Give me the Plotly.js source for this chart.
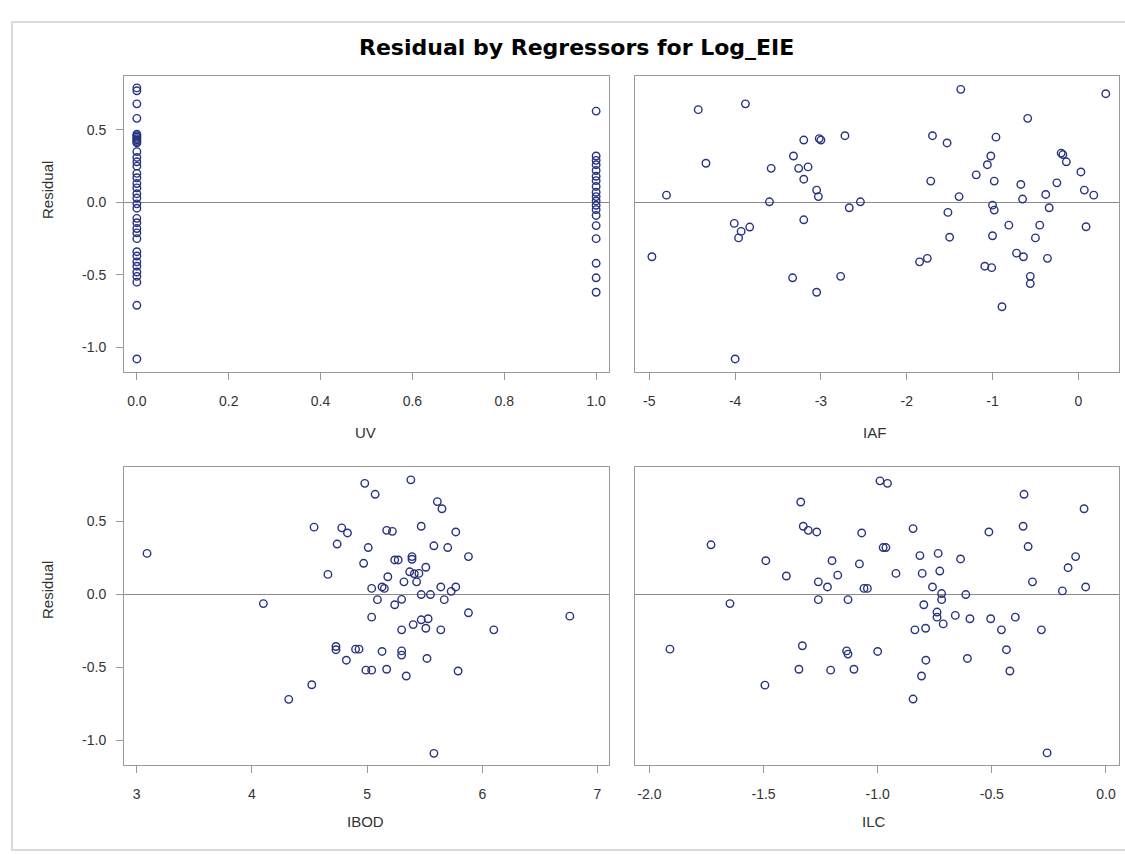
<!DOCTYPE html>
<html>
<head>
<meta charset="utf-8">
<script src="https://cdn.plot.ly/plotly-3.0.1.min.js"></script>
<style>
html,body{margin:0;padding:0;background:#fff;}
#chart{width:1125px;height:854px;}
</style>
</head>
<body>
<div id="chart"></div>
<script>
// ---- Data ----
var chartTitle = "Residual by Regressors for Log_EIE";
var regressorNames = ["UV", "IAF", "IBOD", "ILC"];
var residualLabel = "Residual";

// tick values and labels
var uvTicks = [0, 0.2, 0.4, 0.6, 0.8, 1.0];
var uvTickText = ["0.0", "0.2", "0.4", "0.6", "0.8", "1.0"];
var iafTicks = [-5, -4, -3, -2, -1, 0];
var iafTickText = ["-5", "-4", "-3", "-2", "-1", "0"];
var ibodTicks = [3, 4, 5, 6, 7];
var ibodTickText = ["3", "4", "5", "6", "7"];
var ilcTicks = [-2.0, -1.5, -1.0, -0.5, 0.0];
var ilcTickText = ["-2.0", "-1.5", "-1.0", "-0.5", "0.0"];
var residTicks = [-1.0, -0.5, 0.0, 0.5];
var residTickText = ["-1.0", "-0.5", "0.0", "0.5"];

// UV panel
var uvX = [0,0,0,0,0,0,0,0,0,0,0,0,0,0,0,0,0,0,0,0,0,0,0,0,0,0,0,0,0,0,0,0,0,0,0,0,0,
           1,1,1,1,1,1,1,1,1,1,1,1,1,1,1,1,1,1,1];
var uvResid = [0.79,0.77,0.68,0.58,0.47,0.46,0.45,0.44,0.43,0.42,0.41,0.35,0.31,0.28,0.25,0.20,0.17,0.13,0.10,0.06,0.03,-0.01,-0.04,-0.11,-0.14,-0.18,-0.21,-0.25,-0.34,-0.37,-0.41,-0.44,-0.48,-0.51,-0.55,-0.71,-1.08,
               0.63,0.32,0.29,0.26,0.22,0.18,0.15,0.11,0.07,0.04,0.01,-0.02,-0.05,-0.09,-0.16,-0.25,-0.42,-0.52,-0.62];

// IAF panel
var iafX = [-4.43,-3.88,-4.34,-4.80,-4.97,-4.01,-3.83,-3.93,-3.96,-4.00,-3.60,-3.58,-3.32,-3.20,-3.02,-3.00,-2.72,-3.26,-3.15,-3.20,-3.05,-3.03,-3.20,-3.33,-3.05,-2.77,-2.67,-2.54,
            -1.37,-0.59,0.32,-1.70,-1.53,-0.96,-1.02,-1.06,-1.19,-0.98,-1.72,-1.39,-0.20,-0.18,-0.14,0.03,-0.67,-0.25,-0.38,-0.65,0.07,0.18,-1.00,-0.98,-0.34,-1.52,-0.81,-0.45,0.09,-1.50,-1.00,-0.50,-0.72,-0.64,-0.36,-1.85,-1.76,-1.09,-1.01,-0.56,-0.56,-0.89];
var iafResid = [0.64,0.68,0.27,0.05,-0.375,-0.145,-0.17,-0.20,-0.245,-1.08,0.004,0.235,0.32,0.43,0.44,0.43,0.46,0.235,0.245,0.16,0.085,0.04,-0.12,-0.52,-0.62,-0.51,-0.037,0.004,
                0.78,0.58,0.75,0.46,0.41,0.45,0.32,0.26,0.19,0.147,0.147,0.04,0.34,0.33,0.28,0.21,0.124,0.135,0.055,0.023,0.085,0.05,-0.019,-0.053,-0.037,-0.069,-0.157,-0.157,-0.168,-0.24,-0.23,-0.245,-0.35,-0.375,-0.386,-0.41,-0.386,-0.44,-0.45,-0.51,-0.56,-0.72];

// IBOD panel
var ibodX = [3.09,4.54,4.78,4.83,4.74,4.66,4.10,4.73,4.73,4.82,4.90,4.52,4.32,
             4.98,5.07,5.38,5.61,5.65,5.47,5.77,5.17,5.22,5.01,5.58,5.70,5.88,4.97,5.24,5.27,5.39,5.39,5.51,5.37,5.41,5.45,5.18,5.32,5.43,5.04,5.13,5.15,5.64,5.77,5.73,5.47,5.55,5.09,5.24,5.30,5.67,5.04,5.88,5.47,5.53,5.40,5.51,5.30,5.64,6.10,6.76,4.93,5.13,5.30,5.30,5.52,4.99,5.04,5.17,5.34,5.79,5.58];
var ibodResid = [0.28,0.46,0.455,0.42,0.344,0.136,-0.064,-0.358,-0.38,-0.452,-0.376,-0.62,-0.72,
                 0.76,0.685,0.784,0.635,0.586,0.466,0.427,0.438,0.431,0.32,0.332,0.32,0.258,0.212,0.235,0.235,0.258,0.24,0.185,0.154,0.14,0.143,0.12,0.085,0.085,0.04,0.05,0.04,0.05,0.05,0.02,-0.002,-0.002,-0.037,-0.072,-0.035,-0.037,-0.157,-0.127,-0.175,-0.168,-0.208,-0.233,-0.244,-0.244,-0.244,-0.15,-0.376,-0.392,-0.388,-0.417,-0.44,-0.52,-0.52,-0.514,-0.56,-0.526,-1.09];

// ILC panel
var ilcX = [-1.337,-1.326,-1.304,-1.267,-1.07,-1.73,-1.49,-1.20,-1.08,-1.40,-1.175,-1.26,-1.22,-1.06,-1.045,-1.26,-1.13,-1.647,-1.91,-1.33,-1.136,-1.13,-1.345,-1.206,-1.104,-1.494,
            -0.99,-0.957,-0.359,-0.096,-0.363,-0.513,-0.845,-0.341,-0.976,-0.964,-0.815,-0.735,-0.637,-0.133,-0.166,-0.92,-0.805,-0.728,-0.322,-0.76,-0.191,-0.089,-0.72,-0.72,-0.614,-0.798,-0.74,-0.74,-0.713,-0.66,-0.596,-0.505,-0.397,-0.458,-0.283,-0.837,-0.79,-1.0,-0.436,-0.789,-0.607,-0.808,-0.421,-0.845,-0.258];
var ilcResid = [0.632,0.466,0.438,0.427,0.42,0.339,0.23,0.23,0.208,0.125,0.131,0.085,0.05,0.04,0.04,-0.037,-0.037,-0.064,-0.376,-0.353,-0.388,-0.41,-0.514,-0.52,-0.514,-0.623,
                0.777,0.76,0.685,0.586,0.466,0.427,0.45,0.327,0.32,0.32,0.265,0.28,0.242,0.258,0.182,0.143,0.143,0.159,0.085,0.05,0.023,0.05,0.005,-0.037,-0.002,-0.072,-0.122,-0.157,-0.203,-0.145,-0.168,-0.168,-0.157,-0.244,-0.244,-0.244,-0.233,-0.392,-0.38,-0.452,-0.44,-0.56,-0.526,-0.718,-1.087];

// ---- Style ----
var W = 1125, H = 854;
var font = "Liberation Sans, Arial, sans-serif";
var markerColor = "#27337f";
var frameColor = "#999999";
var textColor = "#333333";

function px(x){ return x / W; }
function py(y){ return 1 - y / H; }

var panels = [
  {x: uvX,   y: uvResid,   xa: "x",  ya: "y"},
  {x: iafX,  y: iafResid,  xa: "x2", ya: "y2"},
  {x: ibodX, y: ibodResid, xa: "x3", ya: "y3"},
  {x: ilcX,  y: ilcResid,  xa: "x4", ya: "y4"}
];

var traces = panels.map(function(p){
  return {
    type: "scatter", mode: "markers",
    x: p.x, y: p.y, xaxis: p.xa, yaxis: p.ya,
    marker: {symbol: "circle-open", size: 7.5, color: markerColor, line: {width: 1.4, color: markerColor}},
    hoverinfo: "x+y", showlegend: false
  };
});

var colL = [124, 609], colR = [635, 1119];
var rowT = [76, 372], rowB = [467, 765];

function xax(dom, anchor, range, tickvals, ticktext){
  return {
    domain: [px(dom[0]), px(dom[1])], range: range, anchor: anchor,
    tickmode: "array", tickvals: tickvals, ticktext: ticktext,
    showline: true, mirror: true, linecolor: frameColor, linewidth: 1,
    ticks: "outside", ticklen: 7, tickcolor: frameColor, ticklabelstandoff: 9,
    showgrid: false, zeroline: false,
    tickfont: {family: font, size: 14, color: textColor}
  };
}
function yax(dom, anchor, labels){
  return {
    domain: [py(dom[1]), py(dom[0])], range: [-1.17, 0.872], anchor: anchor,
    tickmode: "array", tickvals: residTicks, ticktext: residTickText,
    showline: true, mirror: true, linecolor: frameColor, linewidth: 1,
    ticks: labels ? "outside" : "", ticklen: 7, tickcolor: frameColor, ticklabelstandoff: 7,
    showticklabels: labels, showgrid: false,
    zeroline: true, zerolinecolor: "#8a8a8a", zerolinewidth: 1,
    tickfont: {family: font, size: 14, color: textColor}
  };
}

var layout = {
  width: W, height: H,
  margin: {l: 0, r: 0, t: 0, b: 0},
  paper_bgcolor: "#ffffff", plot_bgcolor: "#ffffff",
  font: {family: font, color: textColor},
  xaxis:  xax(colL, "y",  [-0.028, 1.028], uvTicks, uvTickText),
  xaxis2: xax(colR, "y2", [-5.167, 0.474], iafTicks, iafTickText),
  xaxis3: xax(colL, "y3", [2.89, 7.10], ibodTicks, ibodTickText),
  xaxis4: xax(colR, "y4", [-2.063, 0.057], ilcTicks, ilcTickText),
  yaxis:  yax(rowT, "x",  true),
  yaxis2: yax(rowT, "x2", false),
  yaxis3: yax(rowB, "x3", true),
  yaxis4: yax(rowB, "x4", false),
  shapes: [
    {type: "rect", xref: "paper", yref: "paper", x0: px(12), x1: px(1135), y0: py(850), y1: py(22),
     line: {color: "#d9d9d9", width: 2}, fillcolor: "rgba(0,0,0,0)", layer: "below"}
  ],
  annotations: [
    {text: "<b>" + chartTitle + "</b>", xref: "paper", yref: "paper", x: px(576), y: py(48),
     xanchor: "center", yanchor: "middle", showarrow: false, font: {family: "DejaVu Sans, sans-serif", size: 22, color: "#000"}},
    {text: regressorNames[0], xref: "paper", yref: "paper", x: px(366), y: py(432), xanchor: "center", yanchor: "middle", showarrow: false, font: {family: font, size: 15, color: textColor}},
    {text: regressorNames[1], xref: "paper", yref: "paper", x: px(874), y: py(432), xanchor: "center", yanchor: "middle", showarrow: false, font: {family: font, size: 15, color: textColor}},
    {text: regressorNames[2], xref: "paper", yref: "paper", x: px(366), y: py(821), xanchor: "center", yanchor: "middle", showarrow: false, font: {family: font, size: 15, color: textColor}},
    {text: regressorNames[3], xref: "paper", yref: "paper", x: px(874), y: py(821), xanchor: "center", yanchor: "middle", showarrow: false, font: {family: font, size: 15, color: textColor}},
    {text: residualLabel, xref: "paper", yref: "paper", x: px(47), y: py(190), xanchor: "center", yanchor: "middle", textangle: -90, showarrow: false, font: {family: font, size: 15, color: textColor}},
    {text: residualLabel, xref: "paper", yref: "paper", x: px(47), y: py(590), xanchor: "center", yanchor: "middle", textangle: -90, showarrow: false, font: {family: font, size: 15, color: textColor}}
  ]
};

Plotly.newPlot("chart", traces, layout, {displayModeBar: false, staticPlot: true});
</script>
</body>
</html>
